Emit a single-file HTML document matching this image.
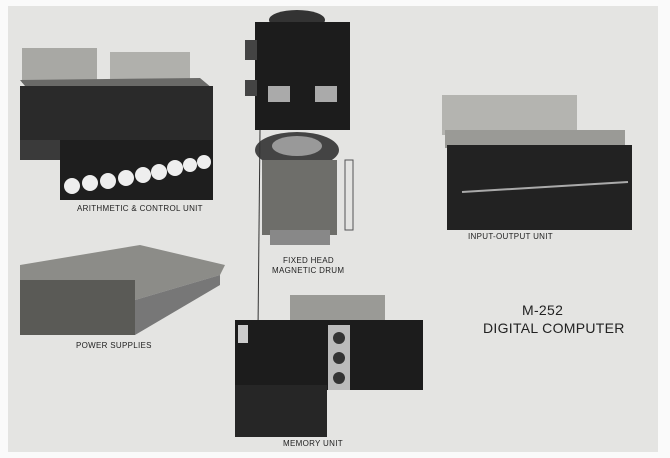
<!DOCTYPE html>
<html><head><style>
body{margin:0;width:670px;height:458px;overflow:hidden;background:#fafafa}
.pg{position:absolute;left:8px;top:6px;width:650px;height:446px;background:#e4e4e2}
.a{position:absolute}
.lbl{position:absolute;font-family:"Liberation Sans",sans-serif;font-size:8px;color:#222;letter-spacing:.3px;white-space:nowrap}
.big{position:absolute;font-family:"Liberation Sans",sans-serif;font-size:14px;color:#222;letter-spacing:0.3px;white-space:nowrap}
</style></head><body>
<div class="pg"></div>
<svg class="a" style="left:0;top:0" width="670" height="458">
<rect x="22" y="48" width="75" height="35" fill="#a8a8a4"/>
<rect x="110" y="52" width="80" height="30" fill="#b0b0ac"/>
<polygon points="20,80 200,78 212,88 30,92" fill="#6a6a68"/>
<rect x="20" y="86" width="193" height="60" fill="#2a2a2a"/>
<rect x="60" y="140" width="153" height="60" fill="#1e1e1e"/>
<rect x="20" y="140" width="40" height="20" fill="#3a3a3a"/>
<g fill="#eee"><circle cx="72" cy="186" r="8"/><circle cx="90" cy="183" r="8"/><circle cx="108" cy="181" r="8"/><circle cx="126" cy="178" r="8"/><circle cx="143" cy="175" r="8"/><circle cx="159" cy="172" r="8"/><circle cx="175" cy="168" r="8"/><circle cx="190" cy="165" r="7"/><circle cx="204" cy="162" r="7"/></g>
<ellipse cx="297" cy="20" rx="28" ry="10" fill="#333"/>
<rect x="255" y="22" width="95" height="108" fill="#1c1c1c"/>
<rect x="245" y="40" width="12" height="20" fill="#444"/>
<rect x="245" y="80" width="12" height="16" fill="#444"/>
<rect x="268" y="86" width="22" height="16" fill="#aaa"/>
<rect x="315" y="86" width="22" height="16" fill="#aaa"/>
<ellipse cx="297" cy="150" rx="42" ry="18" fill="#444"/>
<ellipse cx="297" cy="146" rx="25" ry="10" fill="#999"/>
<rect x="262" y="160" width="75" height="75" fill="#6e6e6a"/>
<rect x="270" y="230" width="60" height="15" fill="#888"/>
<rect x="345" y="160" width="8" height="70" fill="none" stroke="#555"/>
<line x1="260" y1="130" x2="258" y2="330" stroke="#333" stroke-width="1"/>
<rect x="442" y="95" width="135" height="40" fill="#b4b4b0"/>
<rect x="445" y="130" width="180" height="18" fill="#9a9a96"/>
<rect x="447" y="145" width="185" height="85" fill="#222"/>
<line x1="462" y1="192" x2="628" y2="182" stroke="#aaa" stroke-width="2"/>
<polygon points="20,265 140,245 225,265 220,275 135,300 20,285" fill="#8c8c88"/>
<rect x="20" y="280" width="115" height="55" fill="#5a5a56"/>
<polygon points="135,300 220,275 220,285 135,335" fill="#777"/>
<rect x="290" y="295" width="95" height="30" fill="#9a9a96"/>
<rect x="235" y="320" width="188" height="70" fill="#1c1c1c"/>
<rect x="235" y="385" width="92" height="52" fill="#262626"/>
<rect x="328" y="325" width="22" height="65" fill="#bbb"/>
<g fill="#333"><circle cx="339" cy="338" r="6"/><circle cx="339" cy="358" r="6"/><circle cx="339" cy="378" r="6"/></g>
<rect x="238" y="325" width="10" height="18" fill="#ccc"/>
</svg>
<div class="lbl" style="left:77px;top:204px">ARITHMETIC &amp; CONTROL UNIT</div>
<div class="lbl" style="left:283px;top:256px">FIXED HEAD</div>
<div class="lbl" style="left:272px;top:266px">MAGNETIC DRUM</div>
<div class="lbl" style="left:468px;top:232px">INPUT-OUTPUT UNIT</div>
<div class="lbl" style="left:76px;top:341px">POWER SUPPLIES</div>
<div class="lbl" style="left:283px;top:439px">MEMORY UNIT</div>
<div class="big" style="left:522px;top:302px">M-252</div>
<div class="big" style="left:483px;top:320px">DIGITAL COMPUTER</div>
</body></html>
